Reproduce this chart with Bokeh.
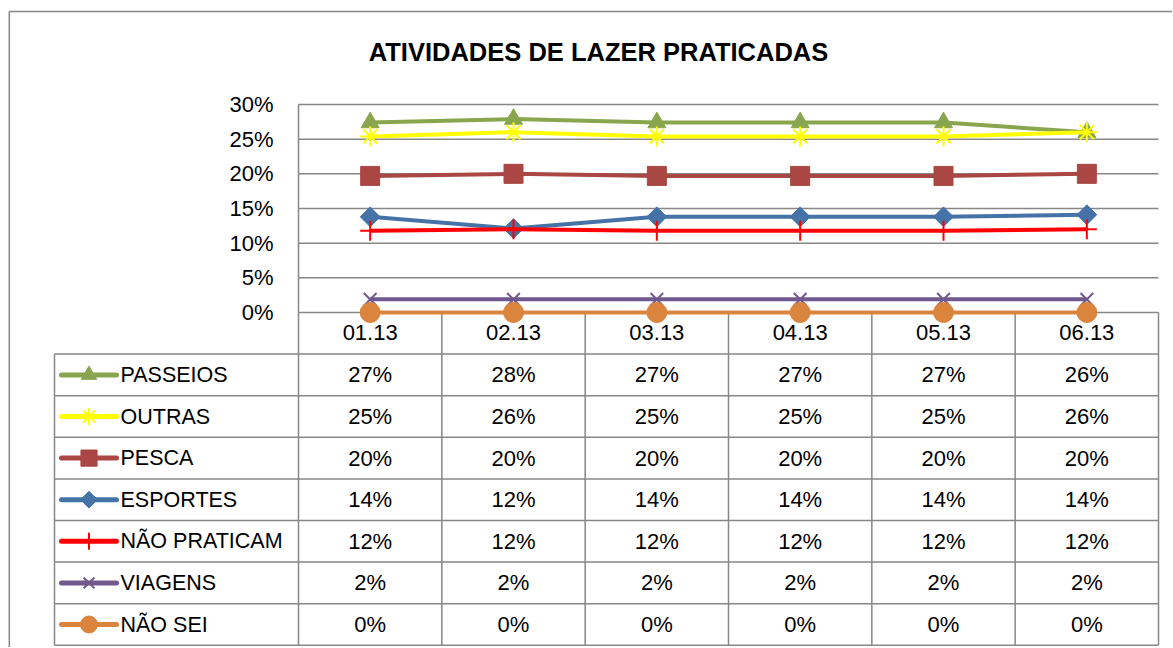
import math
from bokeh.plotting import figure
from bokeh.models import Range1d, LinearAxis, FixedTicker, NumeralTickFormatter
from bokeh.core.properties import value
from bokeh.embed import file_html
from bokeh.resources import INLINE

# ---------------- data ----------------
TITLE = "ATIVIDADES DE LAZER PRATICADAS"
categories = ["01.13", "02.13", "03.13", "04.13", "05.13", "06.13"]
series_names = ["PASSEIOS", "OUTRAS", "PESCA", "ESPORTES", "NÃO PRATICAM", "VIAGENS", "NÃO SEI"]
passeios = [27.4, 27.9, 27.4, 27.4, 27.4, 26.0]
outras = [25.4, 26.0, 25.4, 25.4, 25.4, 26.0]
pesca = [19.7, 20.0, 19.7, 19.7, 19.7, 20.0]
esportes = [13.8, 12.1, 13.8, 13.8, 13.8, 14.1]
nao_praticam = [11.8, 12.0, 11.8, 11.8, 11.8, 12.0]
viagens = [1.9, 1.9, 1.9, 1.9, 1.9, 1.9]
nao_sei = [0.0, 0.0, 0.0, 0.0, 0.0, 0.0]
y_ticks = [0.0, 0.05, 0.10, 0.15, 0.20, 0.25, 0.30]

series_values = [passeios, outras, pesca, esportes, nao_praticam, viagens, nao_sei]

# ---------------- styles ----------------
colors = ["#89A54E", "#FFFF00", "#AA4643", "#4572A7", "#FF0000", "#71588F", "#DB843D"]
markers = ["triangle", "asterisk", "square", "square", "cross", "x", "circle"]
msizes = [18, 20, 19, 14, 20, 18, 20]
mangles = [0, 0, 0, math.pi / 4, 0, 0, 0]
mlw = [1, 2, 1, 1, 2, 2, 1]
GRID = "#878787"
FONT = "Liberation Sans"

# ---------------- layout (page pixels -> data units) ----------------
W, H = 1172, 647
ORIGIN_X, ORIGIN_Y = 0, 0
PLOT_L, PLOT_R = 298, 1158
Y0_PX, Y30_PX = 312.0, 104.0
n = len(categories)
CAT_W = (PLOT_R - PLOT_L) / n
Y_SCALE = (Y0_PX - Y30_PX) / 0.30


def px2x(px):
    return (px - (PLOT_L + CAT_W / 2)) / CAT_W


def px2y(py):
    return (Y0_PX - py) / Y_SCALE


ROW_H = 0.06
n_rows = len(series_names) + 1
TABLE_BOTTOM = -ROW_H * n_rows
X_LEFT = -0.5
X_RIGHT = n - 0.5
LABEL_COL_L = px2x(54)

p = figure(
    width=W, height=H,
    x_range=Range1d(px2x(ORIGIN_X), px2x(ORIGIN_X + W)),
    y_range=Range1d(px2y(ORIGIN_Y + H), px2y(ORIGIN_Y)),
    x_axis_type=None, y_axis_type=None,
    output_backend="svg", toolbar_location=None,
    min_border=0, min_border_left=0, min_border_right=0,
    min_border_top=0, min_border_bottom=0,
)
p.outline_line_color = None
p.grid.visible = False
p.background_fill_color = "white"
p.border_fill_color = "white"

# outer chart border (top and left)
p.segment(x0=[px2x(8.8), px2x(8.8)], y0=[px2y(11), px2y(11)],
          x1=[px2x(1173), px2x(8.8)], y1=[px2y(11), px2y(660)],
          line_color=GRID, line_width=1.5)

# horizontal gridlines
p.segment(x0=[X_LEFT] * len(y_ticks), x1=[X_RIGHT] * len(y_ticks),
          y0=y_ticks, y1=y_ticks, line_color=GRID, line_width=1.5)

# table vertical lines (category boundaries)
vx = [i - 0.5 for i in range(1, n + 1)]
p.segment(x0=vx, x1=vx, y0=[0] * n, y1=[TABLE_BOTTOM] * n, line_color=GRID, line_width=1.5)
# label column left border
p.segment(x0=[LABEL_COL_L], x1=[LABEL_COL_L], y0=[-ROW_H], y1=[TABLE_BOTTOM],
          line_color=GRID, line_width=1.5)
# table horizontal lines
hy = [-ROW_H * k for k in range(1, n_rows + 1)]
p.segment(x0=[LABEL_COL_L] * len(hy), x1=[X_RIGHT] * len(hy), y0=hy, y1=hy,
          line_color=GRID, line_width=1.5)

# axes
yax = LinearAxis(
    fixed_location=X_LEFT, bounds=(TABLE_BOTTOM, 0.30),
    ticker=FixedTicker(ticks=y_ticks),
    formatter=NumeralTickFormatter(format="0%"),
    axis_line_color=GRID, axis_line_width=1.5,
    major_tick_line_color=None, minor_tick_line_color=None,
    major_tick_out=0, major_tick_in=0,
    major_label_standoff=25,
    major_label_text_font=FONT, major_label_text_font_size="22px",
    major_label_text_color="black",
)
p.add_layout(yax, "left")

xax = LinearAxis(
    fixed_location=0,
    ticker=FixedTicker(ticks=list(range(n))),
    major_label_overrides={i: c for i, c in enumerate(categories)},
    axis_line_color=None,
    major_tick_line_color=None, minor_tick_line_color=None,
    major_tick_out=0, major_tick_in=0,
    major_label_standoff=12,
    major_label_text_font=FONT, major_label_text_font_size="22px",
    major_label_text_color="black",
)
p.add_layout(xax, "below")

# series lines + markers
xs = list(range(n))
for name, vals, c, m, s, a, lw in zip(series_names, series_values, colors, markers, msizes, mangles, mlw):
    ys = [v / 100 for v in vals]
    p.line(x=xs, y=ys, line_color=c, line_width=4)
    p.scatter(x=xs, y=ys, marker=m, size=s, angle=a, fill_color=c, line_color=c, line_width=lw)

# table rows: legend keys, labels, values
row_centers = [-ROW_H * (k + 1) - ROW_H / 2 for k in range(len(series_names))]
key_x0, key_x1, key_xm = px2x(61), px2x(116), px2x(88.5)
for k, (name, vals, c, m, s, a, lw) in enumerate(zip(series_names, series_values, colors, markers, msizes, mangles, mlw)):
    yc = row_centers[k]
    p.segment(x0=[key_x0], x1=[key_x1], y0=[yc], y1=[yc], line_color=c, line_width=5, line_cap="round")
    p.scatter(x=[key_xm], y=[yc], marker=m, size=s * 0.85, angle=a, fill_color=c, line_color=c, line_width=lw)
    p.text(x=xs, y=[yc] * n, text=[f"{round(v)}%" for v in vals],
           text_align="center", text_baseline="middle",
           text_font=value(FONT), text_font_size="22px", text_color="black")

p.text(x=[px2x(120)] * len(series_names), y=row_centers, text=series_names,
       text_align="left", text_baseline="middle",
       text_font=value(FONT), text_font_size="21.5px", text_color="black")

# title
p.text(x=[px2x(598)], y=[px2y(51.5)], text=[TITLE],
       text_align="center", text_baseline="middle",
       text_font=value(FONT), text_font_style="bold", text_font_size="25.5px",
       text_color="black")

open("out.html", "w").write(file_html(p, INLINE))
